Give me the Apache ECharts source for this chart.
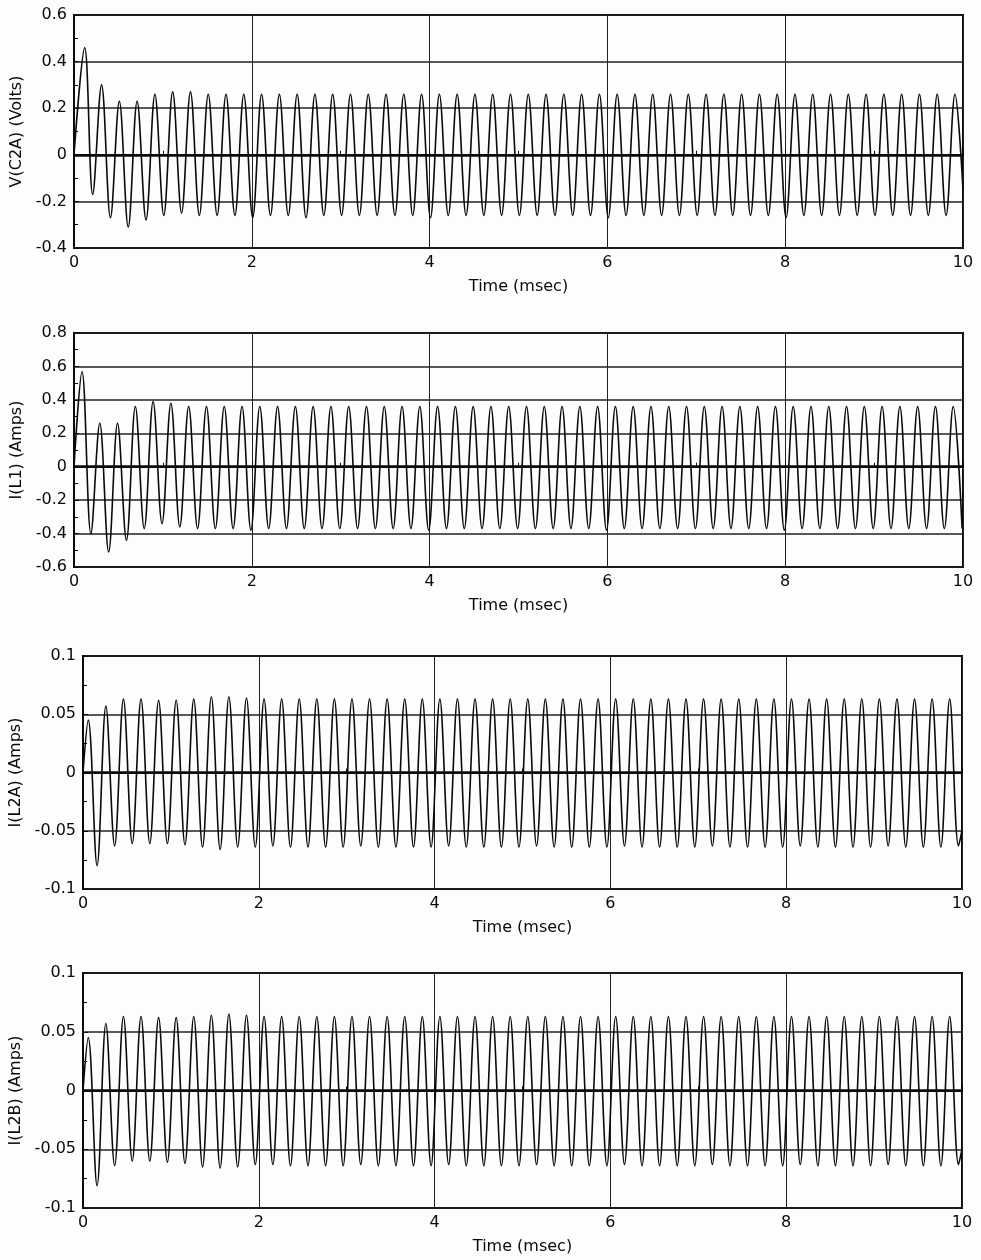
<!DOCTYPE html>
<html>
<head>
<meta charset="utf-8">
<title>Transient response</title>
<script src="https://cdn.jsdelivr.net/npm/echarts@6/dist/echarts.min.js"></script>
<style>
  html, body { margin: 0; padding: 0; background: #fdfdfd; }
  #chart { width: 981px; height: 1260px; }
</style>
</head>
<body>
<div id="chart"></div>
<script>
// Peaks and troughs of each trace (time in msec)
const vc2aTime = [0, 0.12,
  0.21, 0.31, 0.41, 0.51, 0.61, 0.71, 0.81, 0.91, 1.01, 1.11,
  1.21, 1.31, 1.41, 1.51, 1.61, 1.71, 1.81, 1.91, 2.01, 2.11,
  2.21, 2.31, 2.41, 2.51, 2.61, 2.71, 2.81, 2.91, 3.01, 3.11,
  3.21, 3.31, 3.41, 3.51, 3.61, 3.71, 3.81, 3.91, 4.01, 4.11,
  4.21, 4.31, 4.41, 4.51, 4.61, 4.71, 4.81, 4.91, 5.01, 5.11,
  5.21, 5.31, 5.41, 5.51, 5.61, 5.71, 5.81, 5.91, 6.01, 6.11,
  6.21, 6.31, 6.41, 6.51, 6.61, 6.71, 6.81, 6.91, 7.01, 7.11,
  7.21, 7.31, 7.41, 7.51, 7.61, 7.71, 7.81, 7.91, 8.01, 8.11,
  8.21, 8.31, 8.41, 8.51, 8.61, 8.71, 8.81, 8.91, 9.01, 9.11,
  9.21, 9.31, 9.41, 9.51, 9.61, 9.71, 9.81, 9.91, 10];
const vc2aVal = [0, 0.46,
  -0.17, 0.30, -0.27, 0.23, -0.31, 0.23, -0.28, 0.26, -0.26, 0.27,
  -0.25, 0.27, -0.26, 0.26, -0.26, 0.26, -0.26, 0.26, -0.27, 0.26,
  -0.26, 0.26, -0.26, 0.26, -0.27, 0.26, -0.26, 0.26, -0.26, 0.26,
  -0.26, 0.26, -0.26, 0.26, -0.26, 0.26, -0.26, 0.26, -0.27, 0.26,
  -0.26, 0.26, -0.26, 0.26, -0.26, 0.26, -0.26, 0.26, -0.26, 0.26,
  -0.26, 0.26, -0.26, 0.26, -0.26, 0.26, -0.26, 0.26, -0.27, 0.26,
  -0.26, 0.26, -0.26, 0.26, -0.26, 0.26, -0.26, 0.26, -0.26, 0.26,
  -0.26, 0.26, -0.26, 0.26, -0.26, 0.26, -0.26, 0.26, -0.27, 0.26,
  -0.26, 0.26, -0.26, 0.26, -0.26, 0.26, -0.26, 0.26, -0.26, 0.26,
  -0.26, 0.26, -0.26, 0.26, -0.26, 0.26, -0.26, 0.26, -0.15];

const il1Time = [0, 0.09,
  0.19, 0.29, 0.39, 0.49, 0.59, 0.69, 0.79, 0.89, 0.99, 1.09,
  1.19, 1.29, 1.39, 1.49, 1.59, 1.69, 1.79, 1.89, 1.99, 2.09,
  2.19, 2.29, 2.39, 2.49, 2.59, 2.69, 2.79, 2.89, 2.99, 3.09,
  3.19, 3.29, 3.39, 3.49, 3.59, 3.69, 3.79, 3.89, 3.99, 4.09,
  4.19, 4.29, 4.39, 4.49, 4.59, 4.69, 4.79, 4.89, 4.99, 5.09,
  5.19, 5.29, 5.39, 5.49, 5.59, 5.69, 5.79, 5.89, 5.99, 6.09,
  6.19, 6.29, 6.39, 6.49, 6.59, 6.69, 6.79, 6.89, 6.99, 7.09,
  7.19, 7.29, 7.39, 7.49, 7.59, 7.69, 7.79, 7.89, 7.99, 8.09,
  8.19, 8.29, 8.39, 8.49, 8.59, 8.69, 8.79, 8.89, 8.99, 9.09,
  9.19, 9.29, 9.39, 9.49, 9.59, 9.69, 9.79, 9.89, 9.99];
const il1Val = [0, 0.57,
  -0.40, 0.26, -0.51, 0.26, -0.44, 0.36, -0.37, 0.39, -0.34, 0.38,
  -0.36, 0.36, -0.37, 0.36, -0.37, 0.36, -0.37, 0.36, -0.38, 0.36,
  -0.37, 0.36, -0.37, 0.36, -0.37, 0.36, -0.37, 0.36, -0.37, 0.36,
  -0.37, 0.36, -0.37, 0.36, -0.37, 0.36, -0.37, 0.36, -0.38, 0.36,
  -0.37, 0.36, -0.37, 0.36, -0.37, 0.36, -0.37, 0.36, -0.37, 0.36,
  -0.37, 0.36, -0.37, 0.36, -0.37, 0.36, -0.37, 0.36, -0.38, 0.36,
  -0.37, 0.36, -0.37, 0.36, -0.37, 0.36, -0.37, 0.36, -0.37, 0.36,
  -0.37, 0.36, -0.37, 0.36, -0.37, 0.36, -0.37, 0.36, -0.38, 0.36,
  -0.37, 0.36, -0.37, 0.36, -0.37, 0.36, -0.37, 0.36, -0.37, 0.36,
  -0.37, 0.36, -0.37, 0.36, -0.37, 0.36, -0.37, 0.36, -0.37];

// I(L2A) and I(L2B) peak at the same instants
const il2Time = [0, 0.06,
  0.16, 0.26, 0.36, 0.46, 0.56, 0.66, 0.76, 0.86, 0.96, 1.06,
  1.16, 1.26, 1.36, 1.46, 1.56, 1.66, 1.76, 1.86, 1.96, 2.06,
  2.16, 2.26, 2.36, 2.46, 2.56, 2.66, 2.76, 2.86, 2.96, 3.06,
  3.16, 3.26, 3.36, 3.46, 3.56, 3.66, 3.76, 3.86, 3.96, 4.06,
  4.16, 4.26, 4.36, 4.46, 4.56, 4.66, 4.76, 4.86, 4.96, 5.06,
  5.16, 5.26, 5.36, 5.46, 5.56, 5.66, 5.76, 5.86, 5.96, 6.06,
  6.16, 6.26, 6.36, 6.46, 6.56, 6.66, 6.76, 6.86, 6.96, 7.06,
  7.16, 7.26, 7.36, 7.46, 7.56, 7.66, 7.76, 7.86, 7.96, 8.06,
  8.16, 8.26, 8.36, 8.46, 8.56, 8.66, 8.76, 8.86, 8.96, 9.06,
  9.16, 9.26, 9.36, 9.46, 9.56, 9.66, 9.76, 9.86, 9.96, 10];
const il2aVal = [0, 0.045,
  -0.080, 0.057, -0.063, 0.063, -0.061, 0.063, -0.061, 0.062, -0.061, 0.062,
  -0.062, 0.063, -0.064, 0.065, -0.066, 0.065, -0.064, 0.064, -0.064, 0.063,
  -0.063, 0.063, -0.064, 0.063, -0.064, 0.063, -0.064, 0.063, -0.064, 0.063,
  -0.063, 0.063, -0.064, 0.063, -0.064, 0.063, -0.064, 0.063, -0.064, 0.063,
  -0.063, 0.063, -0.064, 0.063, -0.064, 0.063, -0.064, 0.063, -0.064, 0.063,
  -0.063, 0.063, -0.064, 0.063, -0.064, 0.063, -0.064, 0.063, -0.064, 0.063,
  -0.063, 0.063, -0.064, 0.063, -0.064, 0.063, -0.064, 0.063, -0.064, 0.063,
  -0.063, 0.063, -0.064, 0.063, -0.064, 0.063, -0.064, 0.063, -0.064, 0.063,
  -0.063, 0.063, -0.064, 0.063, -0.064, 0.063, -0.064, 0.063, -0.064, 0.063,
  -0.063, 0.063, -0.064, 0.063, -0.064, 0.063, -0.064, 0.063, -0.063, -0.05];
const il2bVal = [0, 0.045,
  -0.081, 0.057, -0.064, 0.063, -0.060, 0.063, -0.060, 0.062, -0.061, 0.062,
  -0.062, 0.063, -0.065, 0.064, -0.066, 0.065, -0.065, 0.064, -0.063, 0.063,
  -0.063, 0.063, -0.064, 0.063, -0.064, 0.063, -0.064, 0.063, -0.064, 0.063,
  -0.063, 0.063, -0.064, 0.063, -0.064, 0.063, -0.064, 0.063, -0.064, 0.063,
  -0.063, 0.063, -0.064, 0.063, -0.064, 0.063, -0.064, 0.063, -0.064, 0.063,
  -0.063, 0.063, -0.064, 0.063, -0.064, 0.063, -0.064, 0.063, -0.064, 0.063,
  -0.063, 0.063, -0.064, 0.063, -0.064, 0.063, -0.064, 0.063, -0.064, 0.063,
  -0.063, 0.063, -0.064, 0.063, -0.064, 0.063, -0.064, 0.063, -0.064, 0.063,
  -0.063, 0.063, -0.064, 0.063, -0.064, 0.063, -0.064, 0.063, -0.064, 0.063,
  -0.063, 0.063, -0.064, 0.063, -0.064, 0.063, -0.064, 0.063, -0.063, -0.05];

const xTicks = { min: 0, max: 10, step: 2 };
const panels = [
  { label: 'V(C2A) (Volts)', time: vc2aTime, val: vc2aVal, min: -0.4, max: 0.6, step: 0.2 },
  { label: 'I(L1) (Amps)', time: il1Time, val: il1Val, min: -0.6, max: 0.8, step: 0.2 },
  { label: 'I(L2A) (Amps)', time: il2Time, val: il2aVal, min: -0.1, max: 0.1, step: 0.05 },
  { label: 'I(L2B) (Amps)', time: il2Time, val: il2bVal, min: -0.1, max: 0.1, step: 0.05 }
];

// layout of the four stacked plots
const boxes = [
  { left: 74, top: 15, right: 18, height: 233, nameGap: 44 },
  { left: 74, top: 333, right: 18, height: 234, nameGap: 44 },
  { left: 83, top: 656, right: 19, height: 233, nameGap: 52 },
  { left: 83, top: 973, right: 19, height: 235, nameGap: 52 }
];

const ink = '#0a0a0a';
const font = { fontFamily: 'DejaVu Sans', fontSize: 16, color: ink };

const chart = echarts.init(document.getElementById('chart'));

const option = {
  backgroundColor: '#fdfdfd',
  animation: false,
  grid: boxes.map(b => ({
    left: b.left, top: b.top, right: b.right, height: b.height,
    show: true, borderColor: ink, borderWidth: 2,
    outerBoundsMode: 'none'
  })),
  xAxis: panels.map((p, i) => ({
    type: 'value',
    gridIndex: i,
    min: xTicks.min, max: xTicks.max, interval: xTicks.step,
    name: 'Time (msec)',
    nameLocation: 'middle',
    nameGap: 31,
    nameTextStyle: font,
    axisLine: { lineStyle: { color: ink, width: 2 } },
    axisTick: { show: true, inside: true, length: 5, lineStyle: { color: ink } },
    minorTick: { show: true, splitNumber: 2, length: 4, lineStyle: { color: ink } },
    axisLabel: Object.assign({ margin: 7 }, font),
    splitLine: { show: true, lineStyle: { color: '#222', width: 1 } }
  })),
  yAxis: panels.map((p, i) => ({
    type: 'value',
    gridIndex: i,
    min: p.min, max: p.max, interval: p.step,
    name: p.label,
    nameLocation: 'middle',
    nameGap: boxes[i].nameGap,
    nameTextStyle: font,
    axisLine: { lineStyle: { color: ink, width: 2 } },
    axisTick: { show: true, inside: true, length: 5, lineStyle: { color: ink } },
    minorTick: { show: true, splitNumber: 2, length: 4, lineStyle: { color: ink } },
    axisLabel: Object.assign({ margin: 7 }, font),
    splitLine: { show: true, lineStyle: { color: '#222', width: 1.5 } }
  })),
  series: panels.map((p, i) => ({
    type: 'line',
    xAxisIndex: i,
    yAxisIndex: i,
    data: p.time.map((t, k) => [t, p.val[k]]),
    showSymbol: false,
    smooth: 0.36,
    lineStyle: { color: ink, width: 1.6 },
    markLine: {
      silent: true,
      symbol: 'none',
      label: { show: false },
      lineStyle: { color: ink, width: 2.5, type: 'solid' },
      data: [{ yAxis: 0 }]
    }
  }))
};

chart.setOption(option);
</script>
</body>
</html>
